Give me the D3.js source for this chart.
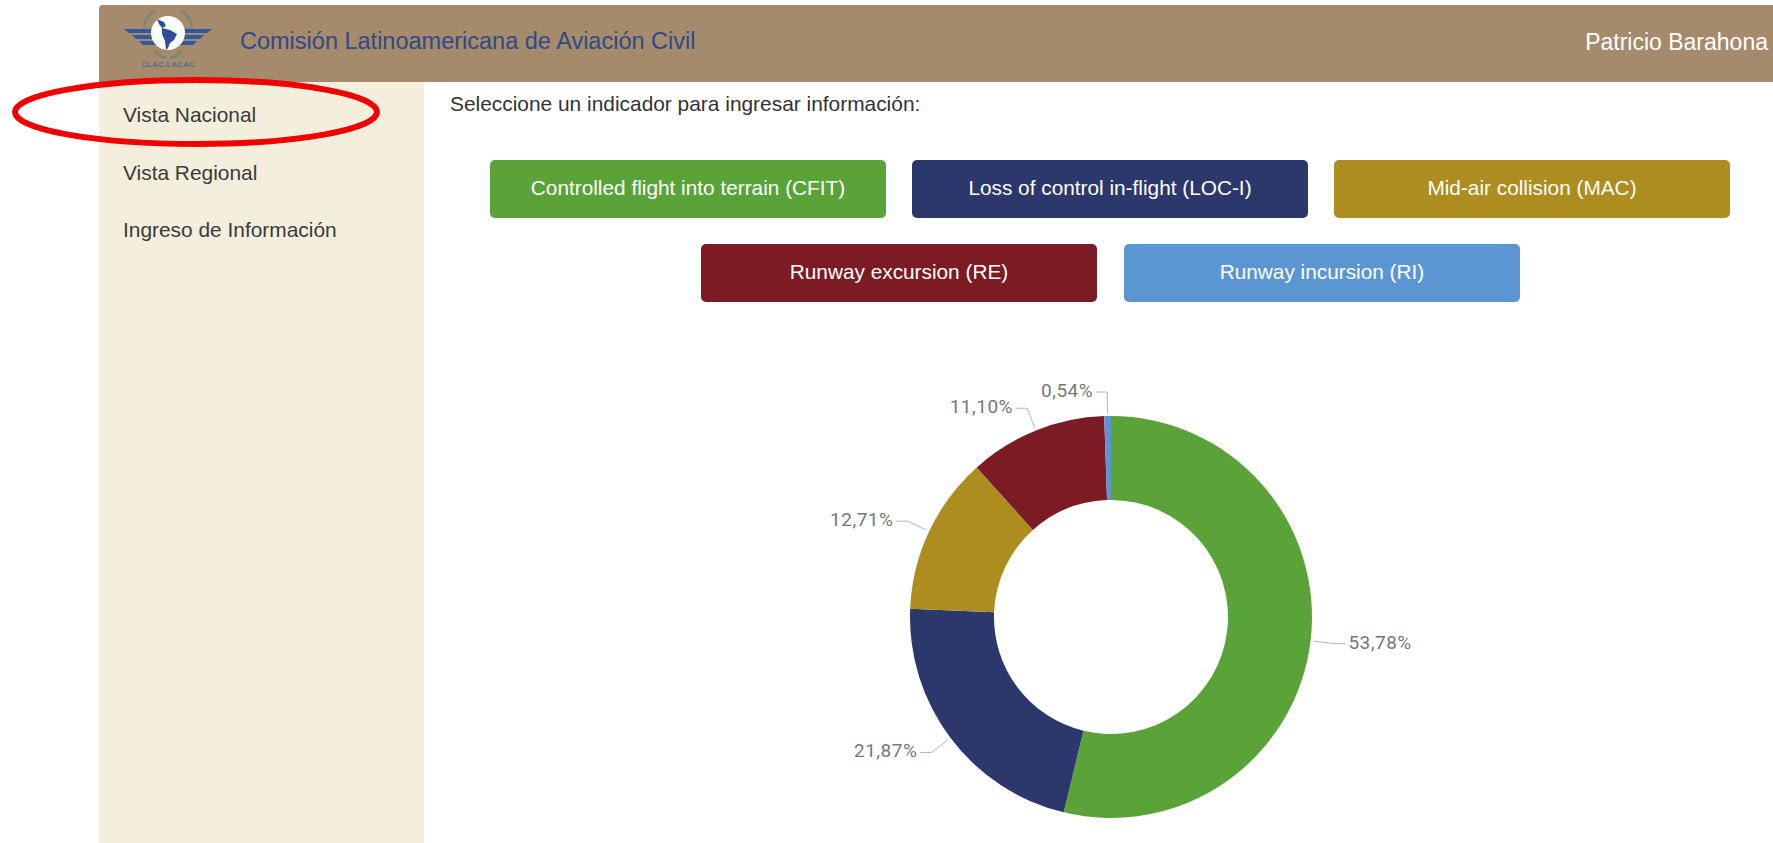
<!DOCTYPE html>
<html>
<head>
	<title>Vista Nacional</title>
	<script type="text/javascript" src="https://cdnjs.cloudflare.com/ajax/libs/d3/7.8.5/d3.min.js"></script>
	<style>
		html, body { margin: 0; padding: 0; background: #fff; overflow: hidden; }
		svg { display: block; font-family: "Liberation Sans", Arial, sans-serif; }
	</style>
</head>
<body>
	<svg id="page" width="1773" height="843"></svg>
	<script type="text/javascript">
		// indicators, clockwise from 12 o'clock
		var categories = ["CFIT", "LOC-I", "MAC", "RE", "RI"];
		var values = [53.78, 21.87, 12.71, 11.10, 0.54];
		var colors = ["#5aa339", "#2c386b", "#ad8d20", "#7c1b24", "#5b96d3"];
		var buttonLabels = [
			"Controlled flight into terrain (CFIT)",
			"Loss of control in-flight (LOC-I)",
			"Mid-air collision (MAC)",
			"Runway excursion (RE)",
			"Runway incursion (RI)"
		];
		var navItems = ["Vista Nacional", "Vista Regional", "Ingreso de Información"];

		var svg = d3.select("#page");

		//page frame
		svg.append("path")
			.attr("d", "M99,82V9a4,4 0 0 1 4,-4H1773V82Z")
			.attr("fill", "#a58a6c");
		svg.append("rect")
			.attr("x", 99).attr("y", 82)
			.attr("width", 325).attr("height", 761)
			.attr("fill", "#f3efdc");

		svg.append("text")
			.attr("x", 240).attr("y", 49)
			.attr("font-size", 23.5)
			.attr("fill", "#2f4a86")
			.text("Comisión Latinoamericana de Aviación Civil");
		svg.append("text")
			.attr("x", 1768).attr("y", 50)
			.attr("text-anchor", "end")
			.attr("font-size", 23)
			.attr("fill", "#fff")
			.text("Patricio Barahona");

		//logo
		var logo = svg.append("g").attr("transform", "translate(168,33)");
		[-1, 1].forEach(function (side) {
			var wing = logo.append("g").attr("transform", "scale(" + side + ",1)");
			wing.append("path").attr("d", "M12,-4H44L39,0H12Z").attr("fill", "#2f5aa0");
			wing.append("path").attr("d", "M12,2H36L32,6H12Z").attr("fill", "#2f5aa0");
			wing.append("path").attr("d", "M12,8H29L25,12H12Z").attr("fill", "#2f5aa0");
			wing.append("path")
				.attr("d", "M13,-23Q25,-15 24,-4M14,18Q8,24 2,25")
				.attr("fill", "none")
				.attr("stroke", "#7f8572")
				.attr("stroke-width", 2.5);
		});
		logo.append("circle").attr("r", 17).attr("fill", "#fff");
		logo.append("path")
			.attr("d", "M-11,-14L-4,-11L-2,-7L-6,-5L2,-3L9,1L6,7L2,10L0,15L-2,17L-3,8L-6,1L-6,-5L-9,-9Z")
			.attr("fill", "#2a4f96");
		logo.append("text")
			.attr("y", 34)
			.attr("text-anchor", "middle")
			.attr("font-size", 8)
			.attr("font-weight", "bold")
			.attr("fill", "#56708f")
			.text("CLAC-LACAC");

		//sidebar
		var navY = d3.scalePoint().domain(navItems).range([122, 237]);
		svg.selectAll(".nav").data(navItems).enter().append("text")
			.attr("class", "nav")
			.attr("x", 123)
			.attr("y", function (d) { return navY(d); })
			.attr("font-size", 20.9)
			.attr("fill", "#3a3a3a")
			.text(function (d) { return d; });

		svg.append("text")
			.attr("x", 450).attr("y", 111)
			.attr("font-size", 20.9)
			.attr("fill", "#333")
			.text("Seleccione un indicador para ingresar información:");

		//buttons
		var buttonW = 396, buttonH = 58;
		var buttonX = [490, 912, 1334, 701, 1124];
		var buttonY = [160, 160, 160, 244, 244];
		var buttons = svg.selectAll(".button").data(buttonLabels).enter().append("g")
			.attr("class", "button")
			.attr("transform", function (d, i) { return "translate(" + buttonX[i] + "," + buttonY[i] + ")"; });
		buttons.append("rect")
			.attr("width", buttonW)
			.attr("height", buttonH)
			.attr("rx", 5)
			.attr("fill", function (d, i) { return colors[i]; });
		buttons.append("text")
			.attr("x", buttonW / 2)
			.attr("y", buttonH / 2 + 6)
			.attr("text-anchor", "middle")
			.attr("font-size", 20.8)
			.attr("fill", "#fff")
			.text(function (d) { return d; });

		//donut
		var outer = 201, inner = 117;
		var chart = svg.append("g").attr("transform", "translate(1111,617)");
		var pie = d3.pie().sort(null).value(function (d) { return d; });
		var arc = d3.arc().innerRadius(inner).outerRadius(outer);
		var slices = pie(values);

		chart.selectAll(".slice").data(slices).enter().append("path")
			.attr("class", "slice")
			.attr("d", arc)
			.attr("fill", function (d, i) { return colors[i]; });

		//leader lines and labels
		var lineStart = d3.arc().innerRadius(outer + 3).outerRadius(outer + 3);
		var lineElbow = d3.arc().innerRadius(outer + 24).outerRadius(outer + 24);
		function side(d) {
			return (d.startAngle + d.endAngle) / 2 < Math.PI ? 1 : -1;
		}
		chart.selectAll(".leader").data(slices).enter().append("polyline")
			.attr("class", "leader")
			.attr("fill", "none")
			.attr("stroke", "#b5b5b5")
			.attr("stroke-width", 1)
			.attr("points", function (d) {
				var a = lineStart.centroid(d), b = lineElbow.centroid(d);
				return [a, b, [b[0] + side(d) * 11, b[1]]].join(" ");
			});
		chart.selectAll(".label").data(slices).enter().append("text")
			.attr("class", "label")
			.attr("x", function (d) { return lineElbow.centroid(d)[0] + side(d) * 14; })
			.attr("y", function (d) { return lineElbow.centroid(d)[1] + 5; })
			.attr("text-anchor", function (d) { return side(d) > 0 ? "start" : "end"; })
			.attr("font-family", "Roboto, sans-serif")
			.attr("font-size", 19)
			.attr("letter-spacing", 0.5)
			.attr("fill", "#777")
			.text(function (d) { return d.value.toFixed(2).replace(".", ",") + "%"; });

		//red marker round the first menu item
		svg.append("ellipse")
			.attr("cx", 196).attr("cy", 112)
			.attr("rx", 181).attr("ry", 32)
			.attr("fill", "none")
			.attr("stroke", "#f00000")
			.attr("stroke-width", 6);
	</script>
</body>
</html>
